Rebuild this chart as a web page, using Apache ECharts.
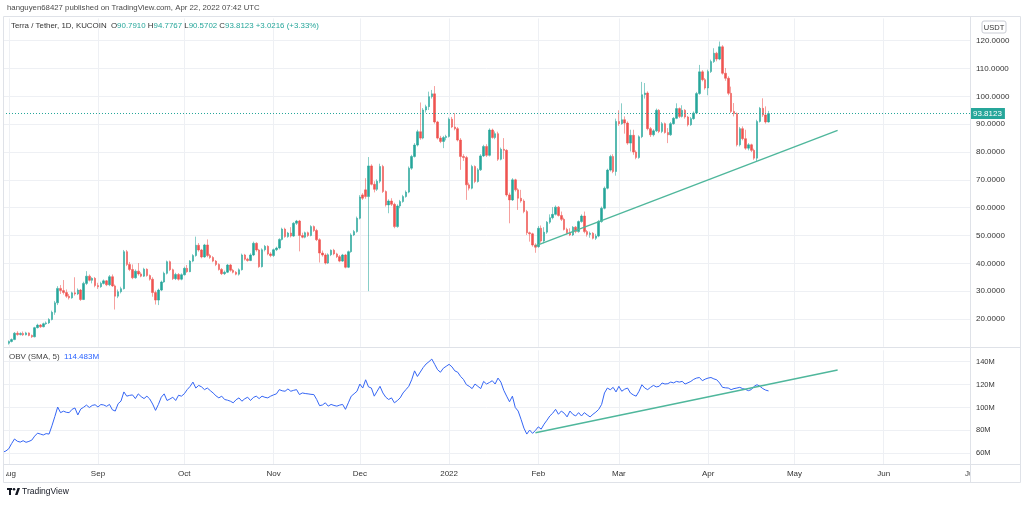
<!DOCTYPE html>
<html><head><meta charset="utf-8">
<script src="https://cdn.jsdelivr.net/npm/echarts@6/dist/echarts.min.js"></script>
<style>html,body{margin:0;padding:0;background:#fff}#c{width:1024px;height:505px}</style>
</head><body><div id="c"></div>
<script>
// ---- DATA (daily candles, Aug 1 2021 .. Apr 22 2022) ----
const opens = [
 11.3,11.9,12.6,14.9,14.4,14.8,14.3,15.0,14.1,13.6,16.9,17.8,17.2,18.3,18.6,19.8,22.4,25.8,31.0,30.2,29.5,28.2,27.6,29.4,29.0,30.4,27.0,32.8,35.4,33.9,34.6,
 32.0,31.6,32.8,33.7,32.3,35.2,31.9,28.2,29.8,30.9,44.2,39.6,37.8,34.8,37.2,36.2,35.4,37.9,35.6,34.3,29.5,26.8,30.4,33.3,36.4,40.6,37.7,34.5,36.0,34.3,
 35.9,38.2,37.0,40.8,42.8,46.5,44.8,42.3,46.6,42.8,42.1,40.8,39.6,37.8,36.3,36.8,39.4,37.5,36.8,36.1,37.7,43.0,41.5,41.0,43.0,47.2,44.8,38.8,44.9,46.1,43.4,
 42.8,44.9,45.5,48.6,52.3,49.6,50.9,49.8,54.4,55.2,50.0,49.4,51.0,50.0,53.2,51.8,48.5,43.7,43.0,40.1,43.1,44.7,43.4,42.4,40.8,43.0,38.6,44.2,50.2,51.4,
 56.2,64.6,66.4,64.0,75.0,68.4,66.6,69.5,74.8,65.8,61.0,62.4,61.2,53.2,60.6,62.2,64.0,65.6,74.2,78.4,82.5,87.3,85.0,95.1,96.3,99.9,100.9,90.8,85.0,83.8,85.2,
 85.6,91.8,89.0,88.4,84.3,78.4,78.0,68.2,67.0,74.8,69.4,73.6,78.6,82.0,78.8,87.9,85.2,86.6,77.4,81.0,80.6,64.6,62.8,70.0,66.4,63.4,62.4,58.6,51.0,50.6,46.6,
 46.0,52.6,48.0,51.2,54.8,56.4,57.6,60.2,57.2,55.8,52.2,51.0,50.2,53.0,51.4,55.0,57.0,51.4,50.4,50.8,49.0,49.8,55.0,59.8,67.0,73.5,78.4,73.0,
 91.0,90.2,91.6,90.4,83.2,86.0,80.0,78.0,85.5,100.6,101.2,88.4,86.2,87.6,95.0,87.4,90.2,87.0,86.2,90.2,92.1,95.6,92.8,95.0,92.6,89.8,92.0,94.0,101.0,108.8,106.0,
 103.0,108.9,112.5,115.5,113.4,117.8,108.3,106.5,101.1,94.6,93.8,82.6,88.4,84.8,81.4,82.6,80.6,77.8,91.0,95.7,93.3,90.791
];
const closes = [
 11.9,12.6,14.9,14.4,14.8,14.3,15.0,14.1,13.6,16.9,17.8,17.2,18.3,18.6,19.8,22.4,25.8,31.0,30.2,29.5,28.2,27.6,29.4,29.0,30.4,27.0,32.8,35.4,33.9,34.6,32.0,
 31.6,32.8,33.7,32.3,35.2,31.9,28.2,29.8,30.9,44.2,39.6,37.8,34.8,37.2,36.2,35.4,37.9,35.6,34.3,29.5,26.8,30.4,33.3,36.4,40.6,37.7,34.5,36.0,34.3,35.9,
 38.2,37.0,40.8,42.8,46.5,44.8,42.3,46.6,42.8,42.1,40.8,39.6,37.8,36.3,36.8,39.4,37.5,36.8,36.1,37.7,43.0,41.5,41.0,43.0,47.2,44.8,38.8,44.9,46.1,43.4,42.8,
 44.9,45.5,48.6,52.3,49.6,50.9,49.8,54.4,55.2,50.0,49.4,51.0,50.0,53.2,51.8,48.5,43.7,43.0,40.1,43.1,44.7,43.4,42.4,40.8,43.0,38.6,44.2,50.2,51.4,56.2,
 63.8,63.4,64.0,75.0,68.4,66.6,69.5,74.8,65.8,61.0,62.4,61.2,53.2,60.6,62.2,64.0,65.6,74.2,78.4,82.5,87.3,85.0,95.1,96.3,99.9,100.9,90.8,85.0,83.8,85.2,85.6,
 91.8,89.0,88.4,84.3,78.4,78.0,68.2,67.0,74.8,69.4,73.6,78.6,82.0,78.8,87.9,85.2,86.6,77.4,81.0,80.6,64.6,62.8,70.0,66.4,63.4,62.4,58.6,51.0,50.6,46.6,45.8,
 52.6,48.0,51.2,54.8,56.4,57.6,60.2,57.2,55.8,52.2,51.0,50.2,53.0,51.4,55.0,57.0,51.4,50.4,50.8,49.0,49.8,55.0,59.8,67.0,73.5,78.4,73.0,91.0,
 90.2,91.6,90.4,83.2,86.0,80.0,78.0,85.5,100.6,101.2,88.4,86.2,87.6,95.0,87.4,90.2,87.0,86.2,90.2,92.1,95.6,92.8,95.0,92.6,89.8,92.0,94.0,101.0,108.8,106.0,103.0,
 108.9,112.5,115.5,113.4,117.8,108.3,106.5,101.1,94.6,93.8,82.6,88.4,84.8,81.4,82.6,80.6,77.8,91.0,95.7,93.3,90.7907,93.8123
];
const lows = [
 10.8,11.6,12.4,14.0,14.1,13.9,14.1,13.8,13.2,13.4,16.6,16.8,17.0,17.9,18.2,19.5,21.5,25.0,29.0,28.8,27.6,27.0,27.3,28.4,28.6,26.5,26.8,32.2,33.5,32.8,31.4,
 30.8,31.2,32.4,31.8,31.8,31.5,23.4,27.5,29.2,30.6,39.0,37.2,34.3,34.5,35.6,35.0,35.1,35.2,33.8,28.0,25.2,25.0,30.0,33.0,36.0,37.2,34.0,34.0,33.8,33.9,
 35.6,36.6,36.8,40.4,42.4,44.2,41.8,42.0,42.2,41.6,40.4,39.0,37.4,35.8,35.8,36.5,37.0,36.4,35.7,35.6,37.4,41.0,40.6,40.8,42.6,44.2,38.4,38.5,44.3,42.9,42.2,
 42.3,44.4,45.0,48.2,49.2,49.2,49.3,49.5,53.8,44.3,49.0,49.0,49.5,49.7,51.3,48.0,40.3,42.4,39.6,39.8,42.6,42.9,41.9,40.4,40.5,38.2,38.3,43.8,49.8,51.0,
 55.8,62.8,63.2,30.0,68.0,65.5,66.0,68.8,65.3,60.4,58.0,60.6,52.6,52.8,59.8,61.8,63.6,65.2,73.6,78.0,82.0,84.4,84.6,94.2,95.1,99.2,90.2,84.5,83.2,81.4,84.2,
 85.2,88.6,87.8,83.8,73.6,76.8,62.8,66.2,66.6,68.8,69.0,73.2,78.2,78.2,78.4,84.8,84.6,76.8,77.0,77.5,64.0,54.4,62.4,65.8,59.2,61.8,58.0,50.2,47.8,46.0,43.8,
 45.6,47.4,47.2,50.6,54.2,55.8,57.2,56.8,55.2,51.8,50.4,49.8,49.8,50.8,51.0,54.6,50.8,49.6,49.2,48.6,48.4,49.4,54.6,59.4,66.6,73.0,72.4,71.5,
 89.4,89.8,86.6,82.6,80.2,79.0,77.4,77.6,85.0,99.2,87.8,85.4,85.6,87.2,86.8,86.8,86.6,83.2,85.8,89.8,91.8,92.2,92.4,92.0,89.2,89.4,91.6,93.6,100.6,105.4,102.4,
 100.4,108.4,112.0,112.6,113.0,107.8,105.6,100.4,94.0,92.8,82.0,82.0,84.2,80.8,80.6,80.0,77.2,76.6,90.6,92.6,90.2,90.5702
];
const highs = [
 12.3,13.0,15.3,15.6,15.2,15.5,15.4,15.2,14.4,17.2,18.3,18.2,18.7,19.1,20.3,23.0,26.5,31.8,32.2,34.0,30.6,29.0,29.8,35.0,31.0,30.8,33.4,37.2,36.0,35.0,35.1,
 33.0,33.4,34.2,34.0,35.8,36.0,32.4,30.6,31.6,44.8,44.8,40.5,39.6,37.8,40.1,36.8,38.4,38.2,36.0,35.0,30.2,30.9,33.8,37.0,41.0,41.0,38.1,36.6,36.5,36.4,
 38.8,39.4,41.2,43.3,49.6,47.3,45.2,47.0,48.6,43.4,42.6,41.2,40.0,38.3,37.4,39.8,39.8,38.0,37.2,38.2,43.5,43.4,42.0,43.6,47.8,47.6,45.2,45.4,46.6,46.5,44.0,
 45.3,46.0,49.0,52.8,52.8,51.3,53.0,54.8,55.6,55.6,51.0,51.4,51.4,53.7,53.6,52.4,49.0,44.6,43.6,43.6,45.0,45.2,43.8,43.0,43.4,43.4,44.6,50.8,52.0,56.8,
 64.5,65.2,70.6,78.2,75.6,69.5,70.2,75.8,75.4,66.2,63.0,63.4,61.8,61.2,62.8,64.6,66.2,74.8,79.0,83.2,88.0,97.8,95.8,97.0,101.7,102.3,103.7,91.2,85.8,85.8,86.2,
 92.4,92.6,94.0,89.0,85.0,79.2,78.6,69.0,75.4,75.2,74.2,79.2,82.6,82.8,88.5,88.4,87.4,87.3,81.6,85.0,81.0,65.4,70.6,70.4,67.0,66.4,63.0,59.2,51.4,51.0,47.2,
 53.4,53.6,53.0,55.2,57.6,60.2,60.8,60.6,58.6,56.4,52.8,52.6,53.4,53.4,55.4,57.6,58.6,52.0,51.4,51.2,50.6,55.6,60.4,67.6,74.0,79.0,79.2,92.0,
 95.0,97.5,92.8,91.0,88.0,88.0,80.6,86.0,105.2,104.8,101.8,89.0,88.2,95.6,95.4,90.8,90.6,88.6,90.8,92.6,97.5,96.0,96.8,95.4,93.0,92.6,94.6,101.6,111.3,109.4,106.6,
 109.6,113.2,117.3,116.0,119.7,118.4,110.2,107.2,103.5,97.6,94.2,89.0,89.2,88.0,83.2,83.0,81.2,91.6,96.2,99.3,96.4,94.7767
];
// OBV (SMA 5), millions, Jul 30 2021 .. Apr 22 2022
const obvValues = [
 61.0,62.0,64.0,68.5,72.5,70.5,69.8,71.0,69.6,70.4,71.5,75.0,
 77.6,76.8,76.0,77.2,76.8,84.0,92.0,100.4,95.5,96.8,
 95.8,95.5,98.4,99.6,93.5,98.6,100.2,102.1,100.0,101.8,
 102.4,100.4,102.6,102.2,101.0,102.7,98.0,96.9,103.3,105.6,
 113.6,109.9,110.6,111.0,107.8,111.9,109.5,107.8,109.9,107.4,
 103.0,97.5,102.7,109.0,111.9,106.1,107.4,109.0,106.1,110.7,
 109.9,112.0,115.6,118.4,122.2,117.0,119.3,118.0,115.6,117.0,
 114.8,112.7,110.2,108.4,109.9,107.0,106.4,105.5,104.1,106.8,
 108.4,105.5,107.6,109.0,106.1,108.8,109.9,107.8,109.9,108.9,
 108.4,109.9,111.0,111.9,115.6,114.6,114.2,116.2,114.2,115.0,
 115.6,111.3,112.7,112.2,111.9,111.5,111.3,107.0,101.6,102.2,
 104.1,101.2,102.7,101.8,101.2,102.1,102.7,98.4,104.1,109.9,
 112.0,114.2,120.5,117.0,124.2,118.0,117.0,109.9,114.2,118.5,
 112.7,109.0,107.0,108.4,104.1,106.0,108.4,112.7,115.6,118.5,
 124.2,132.0,127.1,131.0,134.9,138.0,140.0,142.3,137.7,133.0,
 130.8,134.3,136.0,137.7,135.5,132.0,130.8,127.1,124.5,120.0,
 118.5,116.5,120.5,118.5,116.5,122.8,120.5,121.8,123.4,120.5,
 125.7,122.2,115.0,109.9,105.0,109.9,100.0,96.9,89.7,82.0,
 76.8,80.3,77.4,80.0,83.1,81.1,85.4,88.9,92.6,95.0,
 98.4,94.1,96.9,95.0,91.8,96.9,94.0,92.6,95.5,92.6,
 95.5,93.5,91.8,94.1,96.0,98.4,102.7,112.7,117.0,115.5,
 117.6,113.6,118.5,114.2,116.0,117.0,112.7,111.0,109.9,114.2,
 119.9,117.0,115.6,117.6,119.3,118.0,118.5,121.4,120.5,120.8,
 122.2,121.5,122.8,122.2,122.8,120.5,121.6,122.8,124.6,125.7,
 126.2,123.4,124.8,125.7,126.2,125.0,124.2,121.4,117.6,117.2,
 117.0,115.6,116.5,117.0,117.6,116.5,115.8,114.7,115.6,118.5,
 119.9,118.5,116.5,115.2,114.483
];
const priceTrend = [['2022-01-31', 46.3], ['2022-05-16', 87.8]];
const obvTrend = [['2022-01-31', 78.0], ['2022-05-16', 132.8]];
const monthNames = ['2022','Feb','Mar','Apr','May','Jun','Jul','Aug','Sep','Oct','Nov','Dec'];
const priceTicks = [20,30,40,50,60,70,80,90,100,110,120];
const obvTicks = [60,80,100,120,140];

// ---- categories ----
const dates = [];
for (let t = Date.UTC(2021,6,30); t <= Date.UTC(2022,6,1); t += 86400000) dates.push(new Date(t).toISOString().slice(0,10));
const candleStart = dates.indexOf('2021-08-01');
const candleData = opens.map((o,k) => [dates[candleStart+k], o, closes[k], lows[k], highs[k]]);
const obvData = obvValues.map((v,k) => [dates[k], v]);

const n = opens.length;
const lastC = closes[n-1], prevC = closes[n-2];
const chg = lastC - prevC, pct = chg / prevC * 100;
const fmt4 = v => v.toFixed(4);

const GRID = '#eef0f4', UP = '#26a69a', DOWN = '#ef5350', SEP = '#dfe2e8';
const FONT = 'Liberation Sans, Arial, sans-serif';
const isMonthStart = (i, v) => v.slice(8) === '01';
const monthLabel = v => v.slice(8) === '01' ? monthNames[+v.slice(5,7) - 1] : '';

const priceSplit = []; for (let v = 10; v <= 128; v += 2) priceSplit.push(priceTicks.includes(v) ? GRID : 'rgba(0,0,0,0)');
const obvSplit = []; for (let v = 50; v <= 150; v += 10) obvSplit.push(obvTicks.includes(v) ? GRID : 'rgba(0,0,0,0)');

const chart = echarts.init(document.getElementById('c'), null, {renderer: 'canvas'});
chart.setOption({
  animation: false,
  backgroundColor: '#fff',
  textStyle: {fontFamily: FONT},
  title: [
    {text: 'hanguyen68427 published on TradingView.com, Apr 22, 2022 07:42 UTC', left: 7, top: 3.5, padding: 0,
     textStyle: {fontSize: 7.8, fontWeight: 'normal', color: '#4a4a4a', fontFamily: FONT}},
    {text: '{n|Terra / Tether, 1D, KUCOIN}  {k|O}{v|' + fmt4(opens[n-1]) + '} {k|H}{v|' + fmt4(highs[n-1]) + '} {k|L}{v|' + fmt4(lows[n-1]) +
           '} {k|C}{v|' + fmt4(lastC) + '} {v|+' + chg.toFixed(4) + ' (+' + pct.toFixed(2) + '%)}',
     left: 11, top: 22, padding: 0,
     textStyle: {fontSize: 7.9, fontWeight: 'normal', fontFamily: FONT, rich: {
       n: {fontSize: 7.9, color: '#333', fontFamily: FONT},
       k: {fontSize: 7.9, color: '#333', fontFamily: FONT},
       v: {fontSize: 7.9, color: UP, fontFamily: FONT}}}},
    {text: '{k|OBV (SMA, 5)}  {v|' + obvValues[obvValues.length-1].toFixed(3) + 'M}', left: 9, top: 353, padding: 0,
     textStyle: {fontSize: 8, fontWeight: 'normal', rich: {
       k: {fontSize: 8, color: '#444', fontFamily: FONT},
       v: {fontSize: 8, color: '#2962ff', fontFamily: FONT}}}}
  ],
  grid: [
    {left: 3, width: 967, top: 18.44, height: 328.39, outerBoundsMode: 'none'},
    {left: 3, width: 967, top: 350.25, height: 114.5, outerBoundsMode: 'none'}
  ],
  xAxis: [
    {type: 'category', gridIndex: 0, data: dates, boundaryGap: false,
     axisLine: {show: false}, axisTick: {show: false}, axisLabel: {show: false},
     splitLine: {show: true, interval: isMonthStart, lineStyle: {color: GRID, width: 1}}},
    {type: 'category', gridIndex: 1, data: dates, boundaryGap: false,
     axisLine: {show: false}, axisTick: {show: false},
     axisLabel: {show: true, interval: isMonthStart, formatter: monthLabel, fontSize: 8, color: '#333', margin: 5, fontFamily: FONT},
     splitLine: {show: true, interval: isMonthStart, lineStyle: {color: GRID, width: 1}}}
  ],
  yAxis: [
    {type: 'value', gridIndex: 0, position: 'right', min: 10, max: 128, interval: 2,
     axisLine: {show: false}, axisTick: {show: false},
     axisLabel: {formatter: v => priceTicks.includes(v) ? v.toFixed(4) : '', fontSize: 8, color: '#333', margin: 6, fontFamily: FONT},
     splitLine: {show: true, lineStyle: {color: priceSplit, width: 1}}},
    {type: 'value', gridIndex: 1, position: 'right', min: 50, max: 150, interval: 10,
     axisLine: {show: false}, axisTick: {show: false},
     axisLabel: {formatter: v => obvTicks.includes(v) ? v + 'M' : '', fontSize: 7.5, color: '#333', margin: 6, fontFamily: FONT},
     splitLine: {show: true, lineStyle: {color: obvSplit, width: 1}}}
  ],
  series: [
    {type: 'candlestick', xAxisIndex: 0, yAxisIndex: 0, data: candleData, encode: {x: 0, y: [1,2,3,4]}, barWidth: 2,
     itemStyle: {color: UP, color0: DOWN, borderColor: 'rgba(38,166,154,0.55)', borderColor0: 'rgba(239,83,80,0.55)', borderWidth: 1},
     markLine: {silent: true, symbol: ['none','none'], animation: false,
       data: [
         {yAxis: lastC, lineStyle: {color: UP, type: [1,2], width: 1},
          label: {show: true, position: 'end', distance: 0, formatter: () => fmt4(lastC), backgroundColor: UP, color: '#fff',
                  padding: [2,3,1,3], fontSize: 8, fontFamily: FONT}},
         [{coord: priceTrend[0], lineStyle: {color: '#4fb79c', width: 1.4, type: 'solid'}, label: {show: false}},
          {coord: priceTrend[1]}]
       ]}},
    {type: 'line', xAxisIndex: 1, yAxisIndex: 1, data: obvData, showSymbol: false, symbol: 'none',
     lineStyle: {color: '#3566f5', width: 1}, itemStyle: {color: '#3566f5'},
     markLine: {silent: true, symbol: ['none','none'], animation: false,
       data: [[{coord: obvTrend[0], lineStyle: {color: '#4fb79c', width: 1.4, type: 'solid'}, label: {show: false}}, {coord: obvTrend[1]}]]}}
  ],
  graphic: [
    {type: 'rect', z: 90, silent: true, shape: {x: 971, y: 465, width: 50, height: 17}, style: {fill: '#fff'}},
    {type: 'rect', z: 90, silent: true, shape: {x: 0, y: 465, width: 6, height: 17}, style: {fill: '#fff'}},
    {type: 'rect', z: 100, silent: true, shape: {x: 3.5, y: 16.5, width: 1017, height: 466}, style: {fill: 'none', stroke: SEP, lineWidth: 1}},
    {type: 'line', z: 100, silent: true, shape: {x1: 3, y1: 347.5, x2: 1021, y2: 347.5}, style: {stroke: SEP, lineWidth: 1}},
    {type: 'line', z: 100, silent: true, shape: {x1: 3, y1: 464.5, x2: 1021, y2: 464.5}, style: {stroke: SEP, lineWidth: 1}},
    {type: 'line', z: 100, silent: true, shape: {x1: 970.5, y1: 16, x2: 970.5, y2: 483}, style: {stroke: SEP, lineWidth: 1}},
    {type: 'group', z: 100, silent: true, x: 982, y: 21, children: [
      {type: 'rect', shape: {x: 0, y: 0, width: 24, height: 12, r: 2}, style: {fill: '#fff', stroke: '#c9ccd4', lineWidth: 1}},
      {type: 'text', style: {x: 12, y: 6.5, text: 'USDT', fontSize: 7.5, fill: '#333', align: 'center', verticalAlign: 'middle', fontFamily: FONT}}
    ]},
    {type: 'group', z: 100, silent: true, x: 7, y: 488, children: [
      {type: 'rect', shape: {x: 0, y: 0, width: 5, height: 2}, style: {fill: '#131722'}},
      {type: 'rect', shape: {x: 2, y: 0, width: 2, height: 7}, style: {fill: '#131722'}},
      {type: 'circle', shape: {cx: 7, cy: 1.3, r: 1.3}, style: {fill: '#131722'}},
      {type: 'polygon', shape: {points: [[8,7],[10.5,0],[13,0],[10.5,7]]}, style: {fill: '#131722'}},
      {type: 'text', style: {x: 15, y: 3.6, text: 'TradingView', fontSize: 8.5, fill: '#131722', verticalAlign: 'middle', fontFamily: FONT}}
    ]}
  ]
});
</script>
</body></html>
